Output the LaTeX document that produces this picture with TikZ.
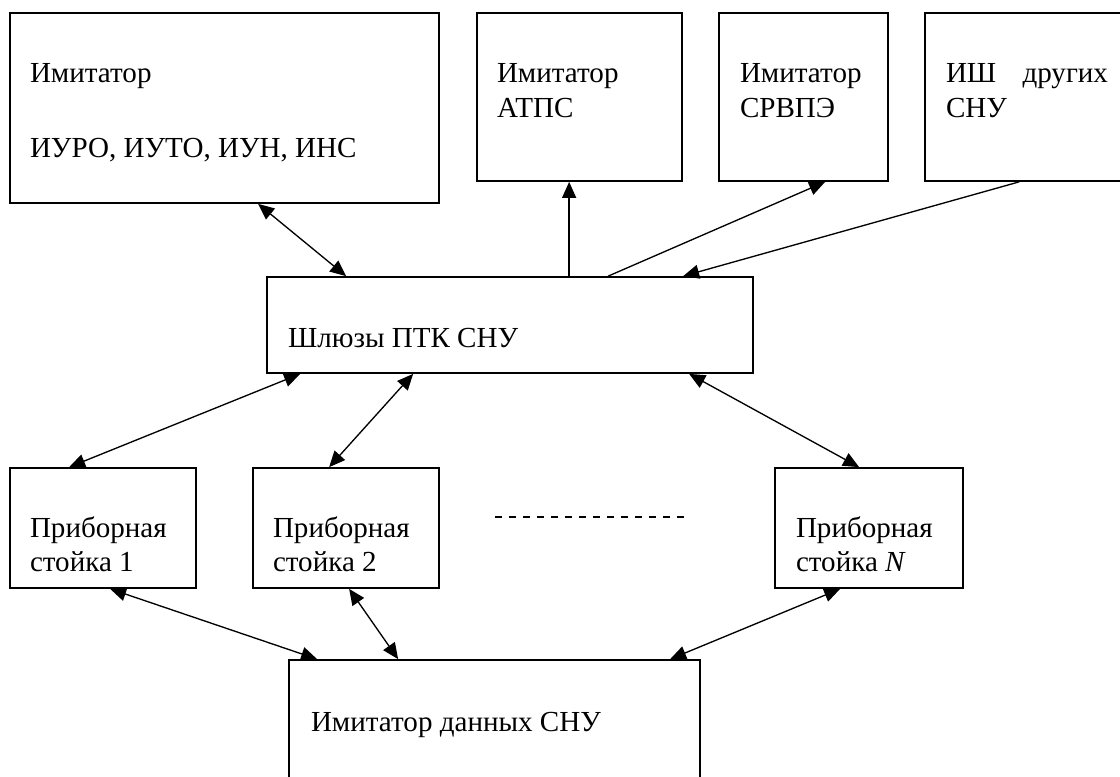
\documentclass[tikz,border=0pt]{standalone}
\usepackage{fontspec}
\setmainfont{Liberation Serif}
\usetikzlibrary{arrows.meta,fit,calc}

\tikzset{
  box/.style={draw=black, line width=1.3pt, inner sep=0pt, rectangle},
  lbl/.style={anchor=base west, inner sep=0pt, outer sep=0pt,
              font=\fontsize{21.8pt}{26pt}\selectfont},
  link/.style={line width=1pt, draw=black},
  tip/.style={-{Triangle[length=12pt,width=10.5pt]}},
  tips/.style={{Triangle[length=12pt,width=10.5pt]}-{Triangle[length=12pt,width=10.5pt]}},
  dotline/.style={line width=1.3pt, dash pattern=on 5.5pt off 5pt}
}

\begin{document}
\begin{tikzpicture}[x=0.75pt,y=-0.75pt]
\useasboundingbox (0,0) rectangle (1120,776);

% blocks
\node[box, fit={(10,13) (439,203)}]   (b1)   {};
\node[box, fit={(477,13) (682,181)}]  (atps) {};
\node[box, fit={(719,13) (888,181)}]  (srv)  {};
\node[box, fit={(925,13) (1128,181)}] (ish)  {};
\node[box, fit={(267,277) (753,373)}] (gw)   {};
\node[box, fit={(10,468) (196,588)}]  (r1)   {};
\node[box, fit={(253,468) (439,588)}] (r2)   {};
\node[box, fit={(775,468) (963,588)}] (rN)   {};
\node[box, fit={(289,660) (700,820)}] (sim)  {};

% captions
\node[lbl] (t1a) at (30,82)  {Имитатор};
\node[lbl] (t1b) at (30,157) {ИУРО, ИУТО, ИУН, ИНС};
\node[lbl] (t2a) at (497,82) {Имитатор};
\node[lbl] (t2b) at (497,117) {АТПС};
\node[lbl] (t3a) at (740,82) {Имитатор};
\node[lbl] (t3b) at (740,117) {СРВПЭ};
\node[lbl] (t4a) at (946,82) {\hbox to 121.5pt{ИШ\hfill других}};
\node[lbl] (t4b) at (946,117) {СНУ};
\node[lbl] (t5)  at (288,347) {Шлюзы ПТК СНУ};
\node[lbl] (t6a) at (30,537) {Приборная};
\node[lbl] (t6b) at (30,571) {стойка 1};
\node[lbl] (t7a) at (273,537) {Приборная};
\node[lbl] (t7b) at (273,571) {стойка 2};
\node[lbl] (t8a) at (796,537) {Приборная};
\node[lbl] (t8b) at (796,571) {стойка \textit{N}};
\node[lbl] (t9)  at (311,731) {Имитатор данных СНУ};

% upper links
\draw[link,tips] ($(b1.south west)+(249,0)$) -- ($(gw.north west)+(80,0)$);
\draw[link,tip]  ($(gw.north west)+(303,0)$) -- ($(atps.south west)+(93,0)$);
\draw[link,tip]  ($(gw.north west)+(342,0)$) -- ($(srv.south west)+(107,0)$);
\draw[link,tip]  ($(ish.south west)+(95,0)$) -- ($(gw.north west)+(417,0)$);

% gateways to racks
\draw[link,tips] ($(gw.south west)+(34,0)$)  -- ($(r1.north west)+(60,0)$);
\draw[link,tips] ($(gw.south west)+(147,0)$) -- ($(r2.north west)+(77,0)$);
\draw[link,tips] ($(gw.south west)+(423,0)$) -- ($(rN.north west)+(85,0)$);

% racks to data simulator
\draw[link,tips] ($(r1.south west)+(101,0)$) -- ($(sim.north west)+(29,0)$);
\draw[link,tips] ($(r2.south west)+(97,0)$)  -- ($(sim.north west)+(110,0)$);
\draw[link,tips] ($(rN.south west)+(66,0)$)  -- ($(sim.north west)+(382,0)$);

% ellipsis between racks
\coordinate (dA) at (495,517);
\coordinate (dB) at (684,517);
\draw[dotline] (dA) -- (dB);
\end{tikzpicture}
\end{document}
